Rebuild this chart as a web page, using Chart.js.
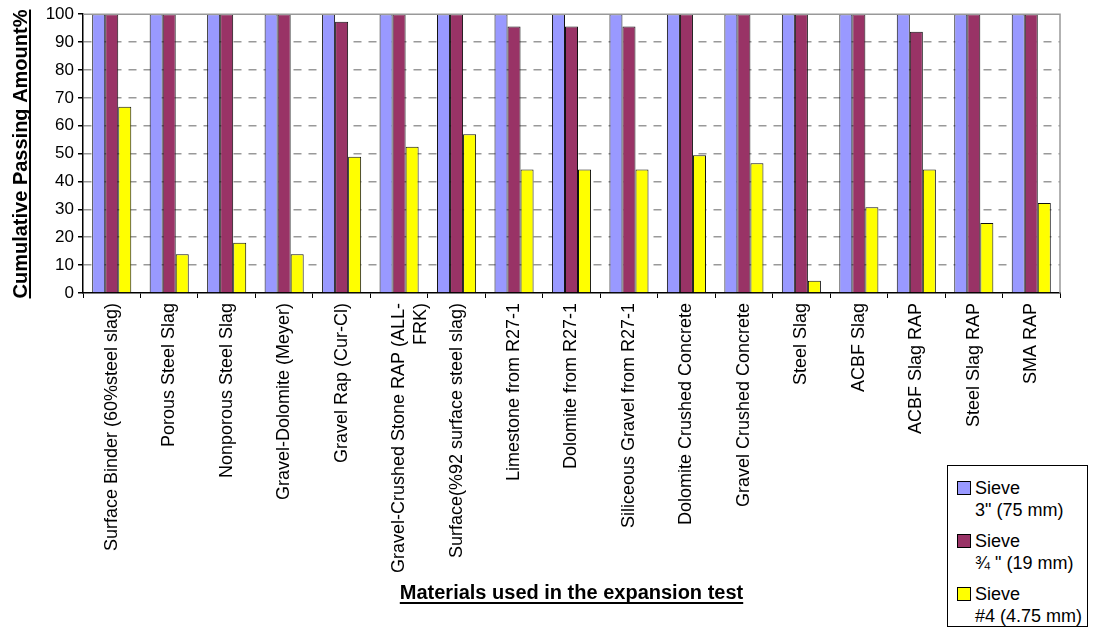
<!DOCTYPE html>
<html>
<head>
<meta charset="utf-8">
<script src="https://cdn.jsdelivr.net/npm/chart.js@4"></script>
<style>
  html, body { margin: 0; padding: 0; background: #fff; }
  #wrap { position: relative; width: 1093px; height: 631px; }
  #legend {
    position: absolute; left: 947px; top: 465px; width: 141px; height: 162px;
    border: 1px solid #000; background: #fff; box-sizing: border-box;
    font-family: 'Liberation Sans', Arial, sans-serif; font-size: 18px; color: #000;
    padding-top: 11px;
  }
  .entry { position: relative; padding-left: 27px; line-height: 22px; margin-bottom: 9px; white-space: nowrap; }
  .entry span.box {
    position: absolute; left: 9px; top: 4px; width: 12px; height: 12px; border: 1px solid #000;
  }
</style>
</head>
<body>
<div id="wrap">
  <canvas id="c" width="1093" height="631"></canvas>
  <div id="legend"></div>
</div>
<script>
// categories and values
const materials = [
  'Surface Binder (60%steel slag)', 'Porous Steel Slag', 'Nonporous Steel Slag',
  'Gravel-Dolomite (Meyer)', 'Gravel Rap (Cur-Cl)', ['Gravel-Crushed Stone RAP (ALL-', 'FRK)'],
  'Surface(%92 surface steel slag)', 'Limestone from R27-1', 'Dolomite from R27-1',
  'Siliceous Gravel from R27-1', 'Dolomite Crushed Concrete', 'Gravel Crushed Concrete',
  'Steel Slag', 'ACBF Slag', 'ACBF Slag RAP', 'Steel Slag RAP', 'SMA RAP'
];
const sieve75 = [100, 100, 100, 100, 100, 100, 100, 100, 100, 100, 100, 100, 100, 100, 100, 100, 100];
const sieve19 = [100, 100, 100, 100, 97.3, 100, 100, 95.6, 95.6, 95.6, 100, 100, 100, 100, 93.7, 100, 100];
const sieve475 = [66.8, 13.9, 18, 13.9, 48.9, 52.5, 56.9, 44.3, 44.3, 44.3, 49.4, 46.5, 4.4, 30.8, 44.3, 25.1, 32.3];
const seriesNames = [['Sieve', '3" (75 mm)'], ['Sieve', ' \u00BE " (19 mm)'], ['Sieve', '#4 (4.75 mm)']];
const seriesColors = ['#9999FF', '#993366', '#FFFF00'];

const yTitle = 'Cumulative Passing Amount%';
const xTitle = 'Materials used in the expansion test';
const FONT = "'Liberation Sans', Arial, sans-serif";

// frame lines + underlined axis titles
const decor = {
  id: 'decor',
  afterDraw(chart) {
    const ctx = chart.ctx, a = chart.chartArea;
    ctx.save();
    ctx.strokeStyle = '#999';
    ctx.lineWidth = 1.5;
    ctx.beginPath();
    ctx.moveTo(a.left, a.top); ctx.lineTo(a.right, a.top); ctx.lineTo(a.right, a.bottom);
    ctx.stroke();

    ctx.fillStyle = '#000';
    ctx.font = 'bold 20px ' + FONT;
    ctx.textAlign = 'center';
    ctx.textBaseline = 'alphabetic';
    // y title, rotated
    ctx.save();
    ctx.translate(27, 154);
    ctx.rotate(-Math.PI / 2);
    ctx.fillText(yTitle, 0, 0);
    let w = ctx.measureText(yTitle).width;
    ctx.fillRect(-w / 2, 2, w, 2);
    ctx.restore();
    // x title
    const cx = (a.left + a.right) / 2;
    ctx.fillText(xTitle, cx, 599);
    w = ctx.measureText(xTitle).width;
    ctx.fillRect(cx - w / 2, 602, w, 2);
    ctx.restore();
  }
};

new Chart(document.getElementById('c'), {
  type: 'bar',
  data: {
    labels: materials,
    datasets: [sieve75, sieve19, sieve475].map((d, i) => ({
      label: seriesNames[i].join(' '),
      data: d,
      backgroundColor: seriesColors[i],
      borderColor: '#111',
      borderWidth: 1,
      categoryPercentage: 0.68,
      barPercentage: 1.0
    }))
  },
  options: {
    responsive: false,
    animation: false,
    layout: { padding: { top: 13, right: 33, left: 0, bottom: 0 } },
    plugins: { legend: { display: false }, title: { display: false }, tooltip: { enabled: false } },
    scales: {
      x: {
        afterFit(s) { s.height = 338; },
        grid: { offset: true, drawOnChartArea: false, tickLength: 5, tickColor: '#000' },
        border: { color: '#000', width: 1.5 },
        ticks: {
          autoSkip: false, maxRotation: 90, minRotation: 90, padding: 5,
          color: '#000', font: { family: FONT, size: 18 }
        }
      },
      y: {
        min: 0, max: 100,
        afterFit(s) { s.width = 83; },
        grid: {
          color: c => (c.tick && (c.tick.value === 0 || c.tick.value === 100)) ? 'rgba(0,0,0,0)' : '#999',
          lineWidth: 1.5,
          tickLength: 5, tickColor: '#000'
        },
        border: { color: '#000', width: 1.5, dash: [8, 7] },
        ticks: { stepSize: 10, padding: 4, color: '#000', font: { family: FONT, size: 17 } }
      }
    }
  },
  plugins: [decor]
});

// legend with two-line entries
const lg = document.getElementById('legend');
seriesNames.forEach((n, i) => {
  const e = document.createElement('div');
  e.className = 'entry';
  const b = document.createElement('span');
  b.className = 'box';
  b.style.background = seriesColors[i];
  e.appendChild(b);
  e.appendChild(document.createTextNode(n[0]));
  e.appendChild(document.createElement('br'));
  e.appendChild(document.createTextNode(n[1]));
  lg.appendChild(e);
});
</script>
</body>
</html>
